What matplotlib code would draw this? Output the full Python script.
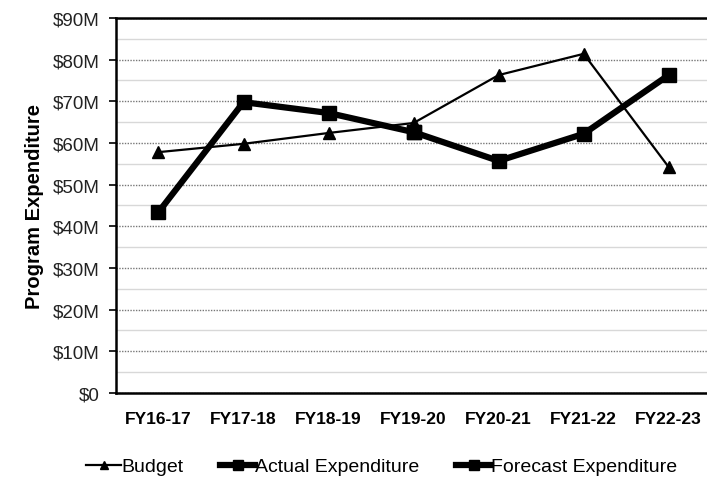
import matplotlib.pyplot as plt
from matplotlib.ticker import FuncFormatter, MultipleLocator

plt.rcParams['font.family'] = ['Liberation Sans', 'DejaVu Sans']

years = ["FY16-17", "FY17-18", "FY18-19", "FY19-20", "FY20-21", "FY21-22", "FY22-23"]
budget = [57.8, 59.8, 62.4, 64.8, 76.3, 81.4, 54.2]
actual = [43.4, 69.8, 67.2, 62.6]
forecast = [62.6, 55.7, 62.2, 76.3]

x_all = list(range(len(years)))
x_actual = x_all[:len(actual)]
x_forecast = x_all[len(actual) - 1:]

fig = plt.figure(figsize=(7.07, 4.81), dpi=100)
ax = fig.add_axes([0.164, 0.181, 0.836, 0.7795])

# grid: dotted majors every $10M, faint minors in between
ax.yaxis.set_major_locator(MultipleLocator(10))
ax.yaxis.set_minor_locator(MultipleLocator(5))
ax.grid(axis='y', which='major', color='#777777', linestyle=(0, (1, 1)), linewidth=1.0)
ax.grid(axis='y', which='minor', color='#d8d8d8', linestyle='-', linewidth=1.0)
ax.set_axisbelow(True)

ax.plot(x_all, budget, color='black', linewidth=1.6, marker='^', markersize=8,
        label='Budget', zorder=3)
ax.plot(x_actual, actual, color='black', linewidth=4.5, marker='s', markersize=10,
        label='Actual Expenditure', zorder=4)
ax.plot(x_forecast, forecast, color='black', linewidth=4.5, marker='s', markersize=10,
        label='Forecast Expenditure', zorder=4)

ax.set_xlim(-0.5, 6.45)
ax.set_ylim(0, 90)
ax.set_xticks(x_all)
ax.set_xticklabels(years, fontweight='bold', fontsize=12.5)
ax.tick_params(axis='x', length=0, pad=13)
ax.tick_params(axis='y', which='major', length=5, width=1.2, labelsize=13.5, pad=7)
ax.tick_params(axis='y', which='minor', length=0)
ax.yaxis.set_major_formatter(FuncFormatter(lambda v, p: '$0' if v == 0 else f'${v:.0f}M'))
for lbl in ax.get_yticklabels():
    lbl.set_color('#222222')

ax.set_ylabel('Program Expenditure', fontweight='bold', fontsize=14.5, labelpad=6)

for side in ('left', 'top', 'bottom'):
    ax.spines[side].set_color('black')
    ax.spines[side].set_linewidth(1.8)
ax.spines['right'].set_visible(False)

handles, labels = ax.get_legend_handles_labels()
leg = fig.legend(handles, labels, loc='center', bbox_to_anchor=(0.54, 0.028), ncol=3,
                 frameon=False, fontsize=14, handlelength=1.8, handletextpad=0.0,
                 columnspacing=1.9, markerscale=0.7)

fig.savefig('out.png', dpi=100)
